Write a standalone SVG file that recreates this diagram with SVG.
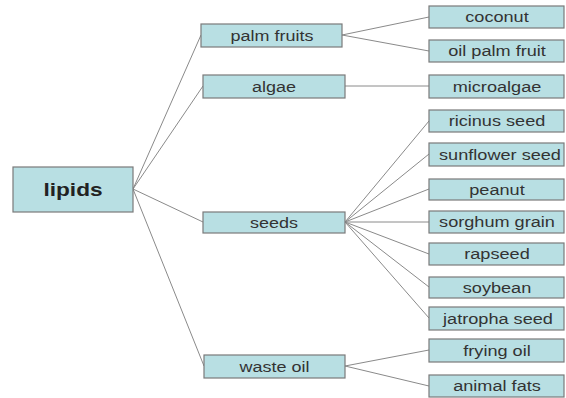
<svg xmlns="http://www.w3.org/2000/svg" width="566" height="398" viewBox="0 0 566 398">
<style>
.box{fill:#b8dfe3;stroke:#7a7a7a;stroke-width:1.2}
.t{font-family:"Liberation Sans",Arial,sans-serif;font-size:15.5px;fill:#333;text-anchor:middle;dominant-baseline:central}
.b{font-size:19px;font-weight:bold;fill:#222}
.c line{stroke:#8a8a8a;stroke-width:1}
</style>
<rect width="566" height="398" fill="#fff"/>
<g class="c" id="connectors">
<line x1="133" y1="189" x2="201" y2="35"/>
<line x1="133" y1="189" x2="203" y2="86"/>
<line x1="133" y1="189" x2="203" y2="222"/>
<line x1="133" y1="189" x2="204" y2="366"/>
<line x1="342" y1="35" x2="429" y2="17"/>
<line x1="342" y1="35" x2="429" y2="51"/>
<line x1="345" y1="86" x2="429" y2="86"/>
<line x1="345" y1="222" x2="429" y2="121"/>
<line x1="345" y1="222" x2="429" y2="154"/>
<line x1="345" y1="222" x2="429" y2="189"/>
<line x1="345" y1="222" x2="429" y2="222"/>
<line x1="345" y1="222" x2="429" y2="254"/>
<line x1="345" y1="222" x2="429" y2="287"/>
<line x1="345" y1="222" x2="429" y2="318"/>
<line x1="345" y1="366" x2="429" y2="350"/>
<line x1="345" y1="366" x2="429" y2="386"/>
</g>
<g id="lipids"><rect class="box" x="13" y="167" width="120" height="45"/><text class="t b" transform="translate(73,189.5) scale(1.19,1)">lipids</text></g>
<g id="palm-fruits"><rect class="box" x="201" y="24" width="141" height="23"/><text class="t" transform="translate(272,35.5) scale(1.16,1)">palm fruits</text></g>
<g id="algae"><rect class="box" x="203" y="75" width="142" height="23"/><text class="t" transform="translate(274,86.5) scale(1.16,1)">algae</text></g>
<g id="seeds"><rect class="box" x="203" y="212" width="142" height="21"/><text class="t" transform="translate(274,222.5) scale(1.16,1)">seeds</text></g>
<g id="waste-oil"><rect class="box" x="204" y="355" width="141" height="23"/><text class="t" transform="translate(274.5,366.5) scale(1.16,1)">waste oil</text></g>
<g id="coconut"><rect class="box" x="429" y="6" width="135" height="22"/><text class="t" transform="translate(497,17) scale(1.17,1)">coconut</text></g>
<g id="oil-palm-fruit"><rect class="box" x="429" y="40" width="135" height="22"/><text class="t" transform="translate(497,51) scale(1.17,1)">oil palm fruit</text></g>
<g id="microalgae"><rect class="box" x="429" y="75" width="135" height="23"/><text class="t" transform="translate(497,86.5) scale(1.17,1)">microalgae</text></g>
<g id="ricinus-seed"><rect class="box" x="429" y="110" width="135" height="22"/><text class="t" transform="translate(497,121) scale(1.17,1)">ricinus seed</text></g>
<g id="sunflower-seed"><rect class="box" x="429" y="143" width="135" height="23"/><text class="t" transform="translate(500,154.5) scale(1.17,1)">sunflower seed</text></g>
<g id="peanut"><rect class="box" x="429" y="179" width="135" height="21"/><text class="t" transform="translate(497,189.5) scale(1.17,1)">peanut</text></g>
<g id="sorghum-grain"><rect class="box" x="429" y="211" width="135" height="22"/><text class="t" transform="translate(497,222) scale(1.17,1)">sorghum grain</text></g>
<g id="rapseed"><rect class="box" x="429" y="243" width="135" height="22"/><text class="t" transform="translate(497,254) scale(1.17,1)">rapseed</text></g>
<g id="soybean"><rect class="box" x="429" y="277" width="135" height="21"/><text class="t" transform="translate(497,287.5) scale(1.17,1)">soybean</text></g>
<g id="jatropha-seed"><rect class="box" x="429" y="307" width="135" height="23"/><text class="t" transform="translate(498,318.5) scale(1.17,1)">jatropha seed</text></g>
<g id="frying-oil"><rect class="box" x="429" y="339" width="135" height="23"/><text class="t" transform="translate(497,350.5) scale(1.17,1)">frying oil</text></g>
<g id="animal-fats"><rect class="box" x="429" y="375" width="135" height="22"/><text class="t" transform="translate(497,386) scale(1.17,1)">animal fats</text></g>
</svg>
